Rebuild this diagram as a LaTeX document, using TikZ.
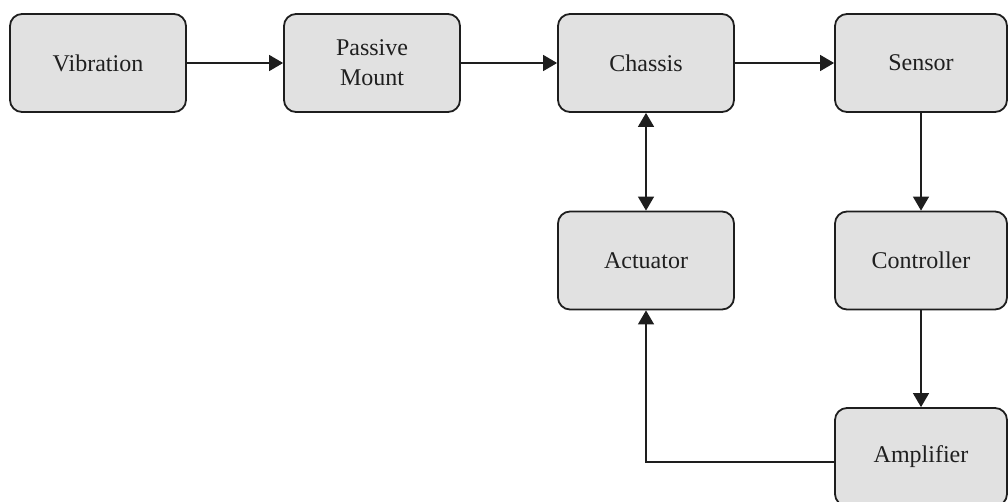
\documentclass[tikz,border=0pt]{standalone}
\usepackage{fontspec}
\setmainfont{Liberation Serif}
\usetikzlibrary{arrows.meta}
\definecolor{boxfill}{HTML}{E1E1E1}
\definecolor{boxline}{HTML}{1E1E1E}
\tikzset{
  block/.style={draw=boxline, fill=boxfill, line width=1.8pt, rounded corners=12pt,
    minimum width=176pt, minimum height=98pt, inner sep=0pt, align=center,
    font=\fontsize{24}{30}\selectfont, text=black!88},
  flow/.style={line width=1.4pt, draw=boxline,
    -{Triangle[length=14pt, width=16pt]}},
  both/.style={line width=1.4pt, draw=boxline,
    {Triangle[length=14pt, width=16pt]}-{Triangle[length=14pt, width=16pt]}}
}
\begin{document}
\begin{tikzpicture}[x=1pt, y=-1pt]
  \useasboundingbox (0,0) rectangle (1008,501);
  \clip (0,0) rectangle (1008,501);
  % top row
  \node[block] (vib) at (98,63) {Vibration};
  \node[block] (mount) at (372,63) {Passive\\Mount};
  \node[block] (chassis) at (646,63) {Chassis};
  \node[block, minimum width=172pt] (sensor) at (921,63) {Sensor};
  % middle row
  \node[block] (act) at (646,260.5) {Actuator};
  \node[block, minimum width=172pt] (ctrl) at (921,260.5) {Controller};
  % bottom row
  \node[block, minimum width=172pt] (amp) at (921,457) {Amplifier};
  % connections
  \draw[flow] (vib) -- (mount);
  \draw[flow] (mount) -- (chassis);
  \draw[flow] (chassis) -- (sensor);
  \draw[flow] (sensor) -- (ctrl);
  \draw[flow] (ctrl) -- (amp);
  \draw[both] (chassis) -- (act);
  \draw[flow] ([yshift=-5pt]amp.west) -| (act.south);
\end{tikzpicture}
\end{document}
